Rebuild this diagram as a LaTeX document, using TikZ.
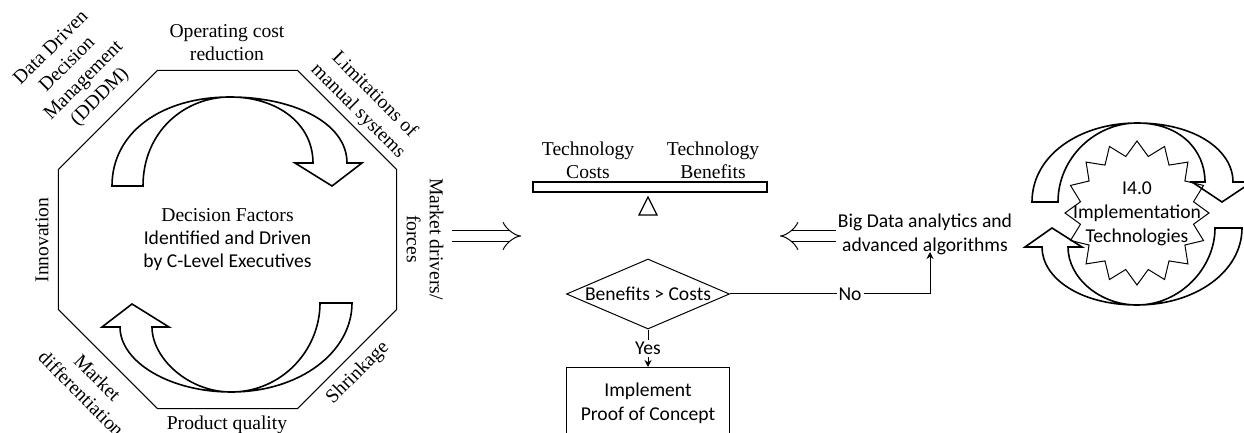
\documentclass[tikz,border=0pt]{standalone}
\usepackage{fontspec}
\setmainfont{Liberation Serif}
\newfontfamily\calfont{Carlito}
\usetikzlibrary{positioning, arrows.meta, shapes.geometric}
\newcommand{\serf}{\fontsize{9.8}{11.5}\selectfont}
\newcommand{\sanf}{\calfont\fontsize{9.8}{12}\selectfont}

\begin{document}
\begin{tikzpicture}[
		x=0.5pt, y=-0.5pt,
		octagon/.style={regular polygon, regular polygon sides=8, draw, line width=0.5pt, minimum size=183pt, inner sep=0pt},
		lbl/.style={font=\serf, align=center, inner sep=0pt},
		slbl/.style={font=\sanf, align=center, inner sep=0pt},
		bendarrow/.style={draw, line width=0.8pt, line join=miter},
		dblarrow/.style={double, double distance=4.6pt, line width=0.5pt, -{Implies[length=3pt, width=12pt]}},
		flow/.style={line width=0.5pt, -{Stealth[length=3.5pt, width=3.5pt]}},
		decision/.style={diamond, draw, line width=0.5pt, aspect=2.33, inner sep=0pt, minimum width=81.5pt, minimum height=35pt, font=\sanf},
		stepbox/.style={rectangle, draw, line width=0.5pt, minimum width=81.5pt, inner xsep=2pt, inner ysep=7.5pt, font=\sanf, align=center},
		burst/.style={star, star points=16, star point ratio=1.25, draw, line width=0.5pt, minimum size=72pt, inner sep=0pt}
	]
	\useasboundingbox (0,0) rectangle (1244,433);
	\clip (0,0) rectangle (1244,433);

	% decision factors
	\node[octagon, font=\serf, align=center] (oct) at (227.5,239.5) {Decision Factors\\{\sanf Identified and Driven}\\{\sanf by C-Level Executives}};
	\node[lbl] (opcost) at (227,43) {Operating cost\\reduction};
	\node[lbl, rotate=45] (dddm) at (76,73) {Data Driven\\Decision\\Management\\(DDDM)};
	\node[lbl, rotate=-45] (limits) at (366,103) {Limitations of\\manual systems};
	\node[lbl, rotate=-90] (drivers) at (425,239) {Market drivers/\\forces};
	\node[lbl, rotate=90] (innov) at (42,240) {Innovation};
	\node[lbl, rotate=-45] (mktdiff) at (89.5,385.5) {Market\\differentiation};
	\node[lbl, rotate=45] (shrink) at (358,373) {Shrinkage};
	\node[lbl] (quality) at (227,425) {Product quality};

	\draw[bendarrow] (112,186) .. controls (112,132) and (162,97) .. (230,97)
		.. controls (292,97) and (347,122) .. (347,163) -- (362,163) -- (332,186) -- (295,163) -- (313,163)
		.. controls (313,124) and (278,97) .. (230,97) .. controls (184,97) and (143,132) .. (143,186) -- cycle;
	\draw[bendarrow] (352,303) .. controls (352,352) and (300,392) .. (231,392)
		.. controls (170,392) and (120,362) .. (120,327) -- (102,327) -- (132,304) -- (169,327) -- (152,327)
		.. controls (152,358) and (188,392) .. (231,392) .. controls (282,392) and (320,350) .. (320,303) -- cycle;

	% balance
	\node[rectangle, draw, line width=0.8pt, minimum width=117pt, minimum height=5pt, inner sep=0pt] (beam) at (650,187) {};
	\draw[line width=0.6pt] (648,197) -- (657,215) -- (639,215) -- cycle;
	\node[lbl] (techcost) at (588,160) {Technology\\Costs};
	\node[lbl] (techben) at (713,160) {Technology\\Benefits};

	\coordinate (inL) at (452,236);
	\coordinate (inLend) at (521,236);
	\coordinate (inR) at (836,236);
	\coordinate (inRend) at (780,236);
	\draw[dblarrow] (inL) -- (inLend);
	\draw[dblarrow] (inR) -- (inRend);

	% check
	\node[decision] (check) at (648,294) {Benefits > Costs};
	\node[stepbox, anchor=north] (poc) at (648,367) {Implement\\Proof of Concept};
	\node[slbl] (bigdata) at (925,234) {Big Data analytics and\\advanced algorithms};
	\coordinate (noend) at (930,252);

	\draw[flow] (check.south) -- (poc.north) node[midway, fill=white, inner sep=1pt, font=\sanf] (yes) {Yes};
	\draw[flow] (check.east) -| (noend) node[pos=0.3, fill=white, inner sep=1pt, font=\sanf] (no) {No};

	% I4.0
	\node[burst] (burst) at (1137,213) {};
	\node[slbl] (i40) at (1137,214) {I4.0\\Implementation\\Technologies};

	\draw[bendarrow] (1032,202) .. controls (1032,155) and (1080,123) .. (1137,123)
		.. controls (1195,123) and (1233,150) .. (1233,182) -- (1252,182) -- (1222,202) -- (1192,182) -- (1205,182)
		.. controls (1205,150) and (1180,123) .. (1137,123) .. controls (1095,123) and (1058,158) .. (1058,202) -- cycle;
	\draw[bendarrow] (1242,228) .. controls (1242,272) and (1195,305) .. (1137,305)
		.. controls (1080,305) and (1042,278) .. (1042,247) -- (1025,247) -- (1052,228) -- (1082,247) -- (1068,247)
		.. controls (1068,278) and (1100,305) .. (1137,305) .. controls (1180,305) and (1215,268) .. (1215,228) -- cycle;

\end{tikzpicture}
\end{document}
